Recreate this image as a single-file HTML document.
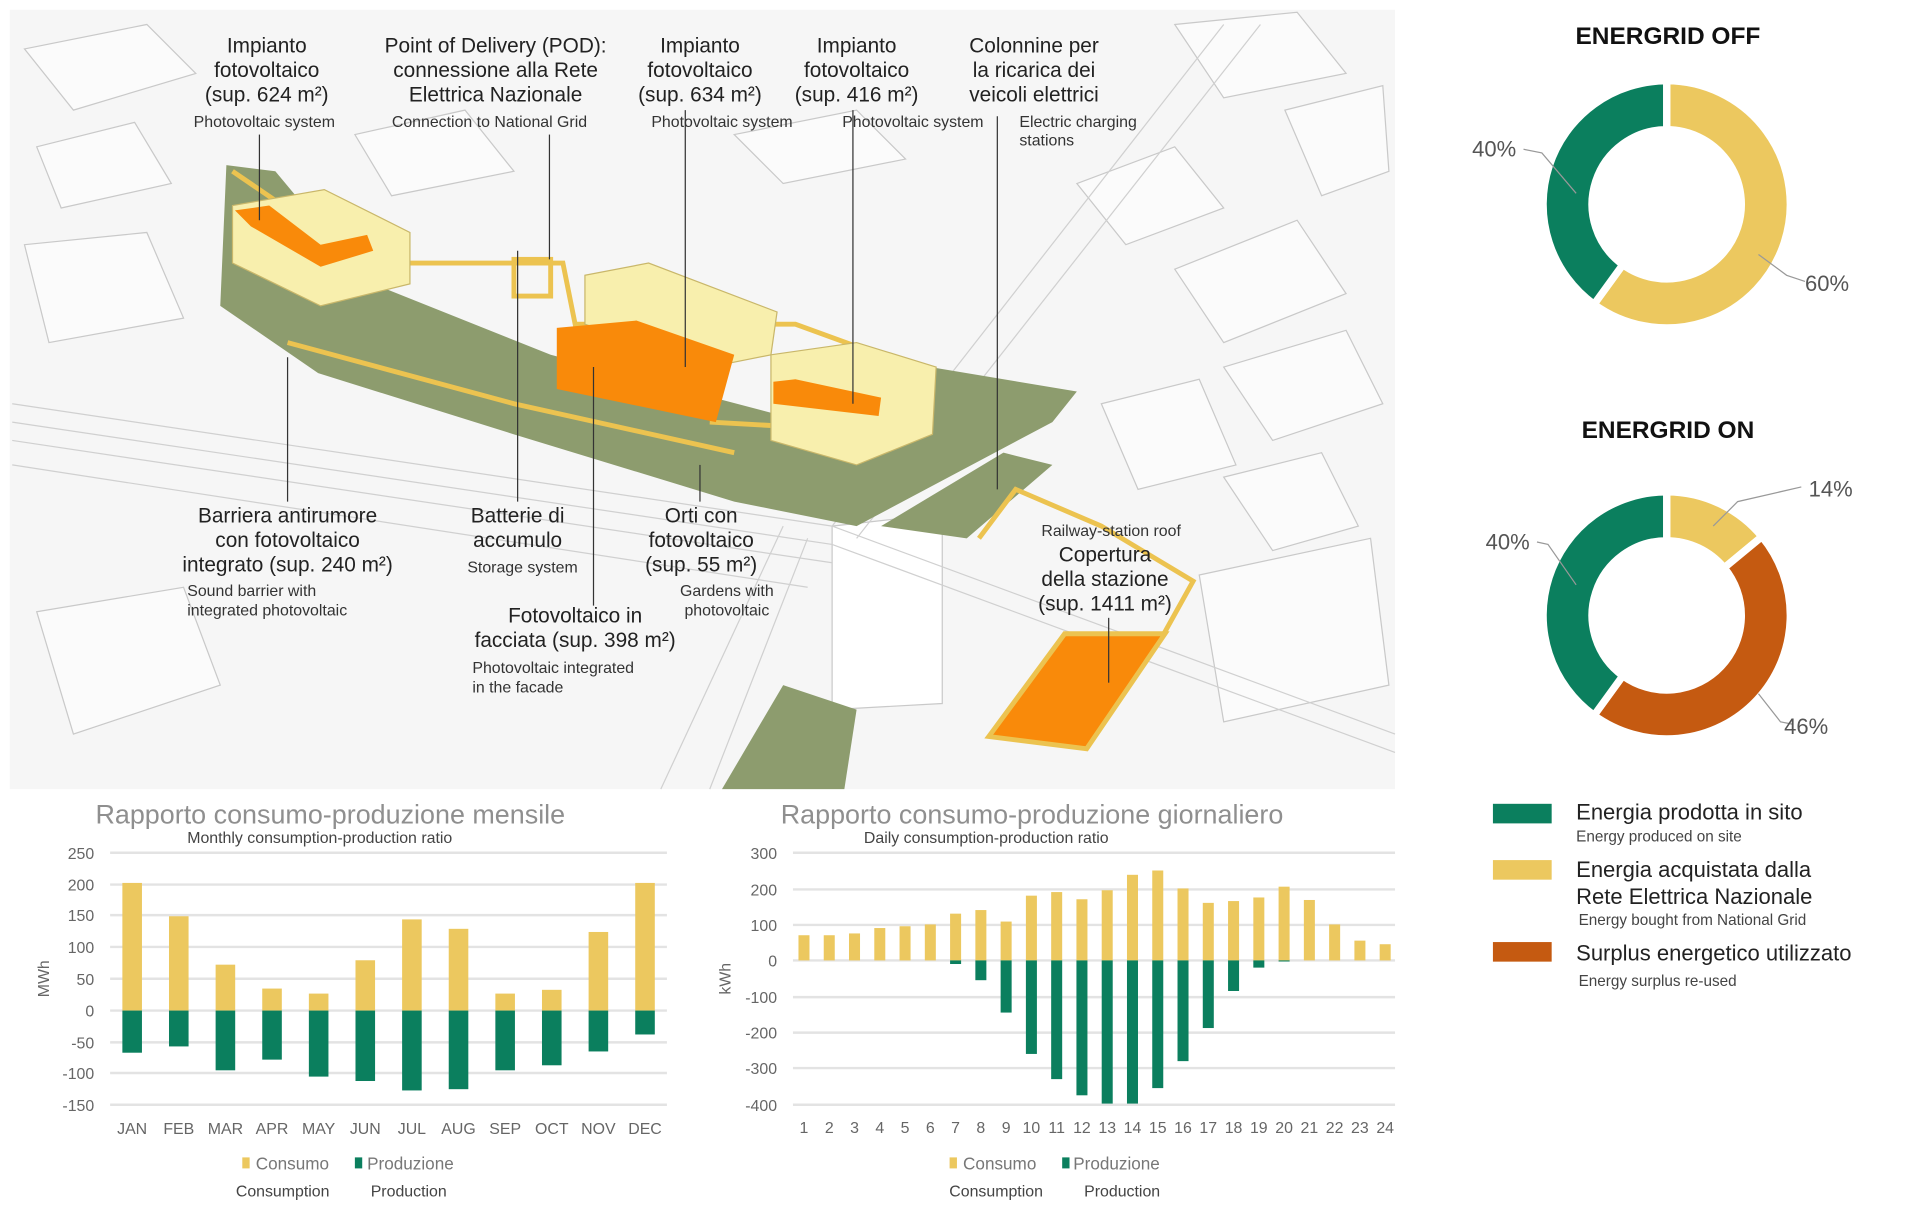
<!DOCTYPE html>
<html><head><meta charset="utf-8"><style>
html,body{margin:0;padding:0;background:#fff;}
svg{display:block;}
text{font-family:"Liberation Sans",sans-serif;}
</style></head><body>
<svg width="1920" height="1210" viewBox="0 0 1569 989" preserveAspectRatio="none" xmlns="http://www.w3.org/2000/svg">
<rect width="1569" height="989" fill="#fff"/>
<!-- MAP -->
<g>
<rect x="8" y="8" width="1132" height="637" fill="#f6f6f6"/>
<g stroke="#c9c9c9" stroke-width="1" fill="#fbfbfb">
<polygon points="20,40 120,20 160,60 60,90"/><polygon points="30,120 110,100 140,150 50,170"/>
<polygon points="290,110 380,90 420,140 320,160"/><polygon points="600,110 700,90 740,130 640,150"/>
<polygon points="880,150 960,120 1000,170 920,200"/><polygon points="960,220 1060,180 1100,240 1000,280"/>
<polygon points="1000,300 1100,270 1130,330 1040,360"/><polygon points="900,330 980,310 1010,380 930,400"/>
<polygon points="1000,390 1080,370 1110,430 1040,450"/><polygon points="20,200 120,190 150,260 40,280"/>
<polygon points="980,470 1120,440 1135,560 1000,590"/><polygon points="30,500 150,480 180,560 60,600"/>
<polygon points="960,20 1060,10 1100,60 1000,80"/><polygon points="1050,90 1130,70 1135,140 1080,160"/>
<polygon points="680,430 770,420 770,575 680,580" fill="#fff"/>
</g>
<g stroke="#d0d0d0" stroke-width="1" fill="none">
<path d="M10,330 L680,430 L1140,600"/><path d="M10,345 L680,445 L1140,615"/><path d="M10,360 L680,460"/>
<path d="M10,380 L660,480"/><path d="M680,430 L1000,20"/><path d="M700,440 L1030,20"/>
<path d="M540,645 L640,430"/><path d="M580,645 L660,440"/>
</g>
<polygon points="185,135 225,140 300,230 450,290 640,340 760,300 880,320 860,345 700,430 600,410 420,355 260,305 180,250" fill="#8d9c6e"/>
<polygon points="590,645 640,560 700,580 690,645" fill="#8d9c6e"/>
<polygon points="720,430 820,370 860,380 790,440" fill="#8d9c6e"/>
<g fill="none" stroke="#ecc350" stroke-width="4">
<polyline points="190,140 300,215 460,215 470,265 650,265 760,305 670,350 580,345"/>
<polyline points="235,280 420,330 600,370"/>
<rect x="420" y="212" width="30" height="30"/>
<polyline points="800,440 830,400 900,430 975,475 950,520"/>
</g>
<polygon points="190,168 265,155 335,190 335,232 262,250 190,215" fill="#f8efad" stroke="#c9b76a"/>
<polygon points="192,172 220,168 262,200 300,192 305,205 262,218 205,185" fill="#f98a0a"/>
<polygon points="478,225 530,215 635,255 630,290 580,300 478,265" fill="#f8efad" stroke="#c9b76a"/>
<polygon points="455,268 520,262 600,290 585,345 455,318" fill="#f98a0a"/>
<polygon points="630,290 700,280 765,300 762,355 700,380 630,360" fill="#f8efad" stroke="#c9b76a"/>
<polygon points="632,312 650,310 720,325 718,340 632,330" fill="#f98a0a"/>
<polygon points="808,602 870,518 952,518 888,612" fill="#f98a0a" stroke="#ecc350" stroke-width="4"/>
</g>
<!-- leader lines -->
<g stroke="#333" stroke-width="1">
<line x1="212" y1="110" x2="212" y2="180"/><line x1="449" y1="110" x2="449" y2="212"/>
<line x1="560" y1="90" x2="560" y2="300"/><line x1="697" y1="90" x2="697" y2="330"/>
<line x1="815" y1="95" x2="815" y2="400"/><line x1="235" y1="292" x2="235" y2="410"/>
<line x1="423" y1="205" x2="423" y2="410"/><line x1="485" y1="300" x2="485" y2="495"/>
<line x1="572" y1="380" x2="572" y2="410"/><line x1="906" y1="505" x2="906" y2="558"/>
</g>
<g font-size="17" fill="#222" text-anchor="middle">
<text x="218" y="43">Impianto</text><text x="218" y="63">fotovoltaico</text><text x="218" y="83">(sup. 624 m²)</text>
<text x="405" y="43">Point of Delivery (POD):</text><text x="405" y="63">connessione alla Rete</text><text x="405" y="83">Elettrica Nazionale</text>
<text x="572" y="43">Impianto</text><text x="572" y="63">fotovoltaico</text><text x="572" y="83">(sup. 634 m²)</text>
<text x="700" y="43">Impianto</text><text x="700" y="63">fotovoltaico</text><text x="700" y="83">(sup. 416 m²)</text>
<text x="845" y="43">Colonnine per</text><text x="845" y="63">la ricarica dei</text><text x="845" y="83">veicoli elettrici</text>
<text x="235" y="427">Barriera antirumore</text><text x="235" y="447">con fotovoltaico</text><text x="235" y="467">integrato (sup. 240 m²)</text>
<text x="423" y="427">Batterie di</text><text x="423" y="447">accumulo</text>
<text x="573" y="427">Orti con</text><text x="573" y="447">fotovoltaico</text><text x="573" y="467">(sup. 55 m²)</text>
<text x="470" y="509">Fotovoltaico in</text><text x="470" y="529">facciata (sup. 398 m²)</text>
<text x="903" y="459">Copertura</text><text x="903" y="479">della stazione</text><text x="903" y="499">(sup. 1411 m²)</text>
</g>
<g font-size="13" fill="#333">
<text x="216" y="104" text-anchor="middle">Photovoltaic system</text>
<text x="400" y="104" text-anchor="middle">Connection to National Grid</text>
<text x="590" y="104" text-anchor="middle">Photovoltaic system</text>
<text x="746" y="104" text-anchor="middle">Photovoltaic system</text>
<text x="833" y="104">Electric charging</text><text x="833" y="119">stations</text>
<text x="153" y="487">Sound barrier with</text><text x="153" y="503">integrated photovoltaic</text>
<text x="427" y="468" text-anchor="middle">Storage system</text>
<text x="594" y="487" text-anchor="middle">Gardens with</text><text x="594" y="503" text-anchor="middle">photovoltaic</text>
<text x="386" y="550">Photovoltaic integrated</text><text x="386" y="566">in the facade</text>
<text x="908" y="438" text-anchor="middle">Railway-station roof</text>
</g>
<!-- MONTHLY CHART -->
<text x="78" y="673" font-size="22" fill="#8f8f8f">Rapporto consumo-produzione mensile</text>
<text x="153" y="689" font-size="13" fill="#444">Monthly consumption-production ratio</text>
<g stroke="#e3e3e3" stroke-width="2">
<line x1="90" x2="545" y1="697" y2="697"/><line x1="90" x2="545" y1="723" y2="723"/><line x1="90" x2="545" y1="748" y2="748"/>
<line x1="90" x2="545" y1="774" y2="774"/><line x1="90" x2="545" y1="800" y2="800"/><line x1="90" x2="545" y1="826" y2="826"/>
<line x1="90" x2="545" y1="852" y2="852"/><line x1="90" x2="545" y1="877" y2="877"/><line x1="90" x2="545" y1="903" y2="903"/>
</g>
<g font-size="13" fill="#666" text-anchor="end">
<text x="77" y="702">250</text><text x="77" y="728">200</text><text x="77" y="753">150</text><text x="77" y="779">100</text>
<text x="77" y="805">50</text><text x="77" y="831">0</text><text x="77" y="857">-50</text><text x="77" y="882">-100</text><text x="77" y="908">-150</text>
</g>
<text transform="translate(40,800) rotate(-90)" font-size="13" fill="#666" text-anchor="middle">MWh</text>
<g id="mbars"></g>
<g font-size="13" fill="#666" text-anchor="middle" id="mlab"></g>
<rect x="198" y="946" width="6" height="9" fill="#ecc85f"/><text x="209" y="956" font-size="14" fill="#777">Consumo</text>
<rect x="290" y="946" width="6" height="9" fill="#0b7f5e"/><text x="300" y="956" font-size="14" fill="#777">Produzione</text>
<text x="231" y="978" font-size="13" fill="#444" text-anchor="middle">Consumption</text>
<text x="334" y="978" font-size="13" fill="#444" text-anchor="middle">Production</text>
<!-- DAILY CHART -->
<text x="638" y="673" font-size="22" fill="#8f8f8f">Rapporto consumo-produzione giornaliero</text>
<text x="706" y="689" font-size="13" fill="#444">Daily consumption-production ratio</text>
<g stroke="#e3e3e3" stroke-width="2">
<line x1="648" x2="1140" y1="697" y2="697"/><line x1="648" x2="1140" y1="727" y2="727"/><line x1="648" x2="1140" y1="756" y2="756"/>
<line x1="648" x2="1140" y1="785" y2="785"/><line x1="648" x2="1140" y1="815" y2="815"/><line x1="648" x2="1140" y1="844" y2="844"/>
<line x1="648" x2="1140" y1="873" y2="873"/><line x1="648" x2="1140" y1="903" y2="903"/>
</g>
<g font-size="13" fill="#666" text-anchor="end">
<text x="635" y="702">300</text><text x="635" y="732">200</text><text x="635" y="761">100</text><text x="635" y="790">0</text>
<text x="635" y="820">-100</text><text x="635" y="849">-200</text><text x="635" y="878">-300</text><text x="635" y="908">-400</text>
</g>
<text transform="translate(597,800) rotate(-90)" font-size="13" fill="#666" text-anchor="middle">kWh</text>
<g id="dbars"></g>
<g font-size="13" fill="#666" text-anchor="middle" id="dlab"></g>
<rect x="776" y="946" width="6" height="9" fill="#ecc85f"/><text x="787" y="956" font-size="14" fill="#777">Consumo</text>
<rect x="868" y="946" width="6" height="9" fill="#0b7f5e"/><text x="877" y="956" font-size="14" fill="#777">Produzione</text>
<text x="814" y="978" font-size="13" fill="#444" text-anchor="middle">Consumption</text>
<text x="917" y="978" font-size="13" fill="#444" text-anchor="middle">Production</text>
<!-- DONUTS -->
<text x="1363" y="36" font-size="20" font-weight="bold" fill="#111" text-anchor="middle">ENERGRID OFF</text>
<text x="1363" y="358" font-size="20" font-weight="bold" fill="#111" text-anchor="middle">ENERGRID ON</text>
<g id="donuts"></g>
<g stroke="#999" stroke-width="1" fill="none">
<polyline points="1245,122 1260,125 1288,158"/><polyline points="1437,208 1460,225 1475,230"/>
<polyline points="1472,398 1420,410 1400,430"/><polyline points="1256,443 1265,445 1288,478"/><polyline points="1437,567 1455,590 1465,592"/>
</g>
<g font-size="18" fill="#555">
<text x="1203" y="128">40%</text><text x="1475" y="238">60%</text><text x="1478" y="406">14%</text>
<text x="1214" y="449">40%</text><text x="1458" y="600">46%</text>
</g>
<!-- LEGEND -->
<rect x="1220" y="657" width="48" height="16" fill="#0b7f5e"/>
<rect x="1220" y="703" width="48" height="16" fill="#ecc85f"/>
<rect x="1220" y="770" width="48" height="16" fill="#c55a11"/>
<g fill="#222" font-size="18">
<text x="1288" y="670">Energia prodotta in sito</text>
<text x="1288" y="717">Energia acquistata dalla</text><text x="1288" y="739">Rete Elettrica Nazionale</text>
<text x="1288" y="785">Surplus energetico utilizzato</text>
</g>
<g fill="#444" font-size="12.5">
<text x="1288" y="688">Energy produced on site</text>
<text x="1290" y="756">Energy bought from National Grid</text>
<text x="1290" y="806">Energy surplus re-used</text>
</g>
<script>
var NS="http://www.w3.org/2000/svg";
function el(p,t,a,txt){var e=document.createElementNS(NS,t);for(var k in a)e.setAttribute(k,a[k]);if(txt)e.textContent=txt;p.appendChild(e);return e;}
var mc=[203,150,73,35,27,80,145,130,27,33,125,203],mp=[67,57,95,78,105,112,127,125,95,87,65,38];
var mn=["JAN","FEB","MAR","APR","MAY","JUN","JUL","AUG","SEP","OCT","NOV","DEC"];
var g=document.getElementById("mbars"),gl=document.getElementById("mlab");
for(var i=0;i<12;i++){var cx=108+i*38.1,s=0.514;
el(g,"rect",{x:cx-8,y:826-mc[i]*s,width:16,height:mc[i]*s,fill:"#ecc85f"});
el(g,"rect",{x:cx-8,y:826,width:16,height:mp[i]*s,fill:"#0b7f5e"});
el(gl,"text",{x:cx,y:927},mn[i]);}
var dc=[70,70,75,90,95,100,130,140,108,180,190,170,195,238,250,200,160,165,175,205,168,100,55,45];
var dp=[0,0,0,0,0,0,10,55,145,260,330,375,398,398,355,280,188,85,20,3,0,0,0,0];
g=document.getElementById("dbars");gl=document.getElementById("dlab");
for(i=0;i<24;i++){var cx=657+i*20.65,s=0.294;
el(g,"rect",{x:cx-4.5,y:785-dc[i]*s,width:9,height:dc[i]*s,fill:"#ecc85f"});
if(dp[i])el(g,"rect",{x:cx-4.5,y:785,width:9,height:dp[i]*s,fill:"#0b7f5e"});
el(gl,"text",{x:cx,y:926},String(i+1));}
function arc(p,cx,cy,a0,a1,col){var R=101,r=61;function pt(rr,a){a=(a-90)*Math.PI/180;return [cx+rr*Math.cos(a),cy+rr*Math.sin(a)];}
var l=(a1-a0)>180?1:0,A=pt(R,a0),B=pt(R,a1),C=pt(r,a1),D=pt(r,a0);
el(p,"path",{d:"M"+A+" A"+R+","+R+" 0 "+l+" 1 "+B+" L"+C+" A"+r+","+r+" 0 "+l+" 0 "+D+"Z",fill:col,stroke:"#fff","stroke-width":6});}
var dn=document.getElementById("donuts");
arc(dn,1362,167,0,216,"#ecc85f");arc(dn,1362,167,216,360,"#0b7f5e");
arc(dn,1362,503,0,50.4,"#ecc85f");arc(dn,1362,503,50.4,216,"#c55a11");arc(dn,1362,503,216,360,"#0b7f5e");
</script>
</svg>
</body></html>
